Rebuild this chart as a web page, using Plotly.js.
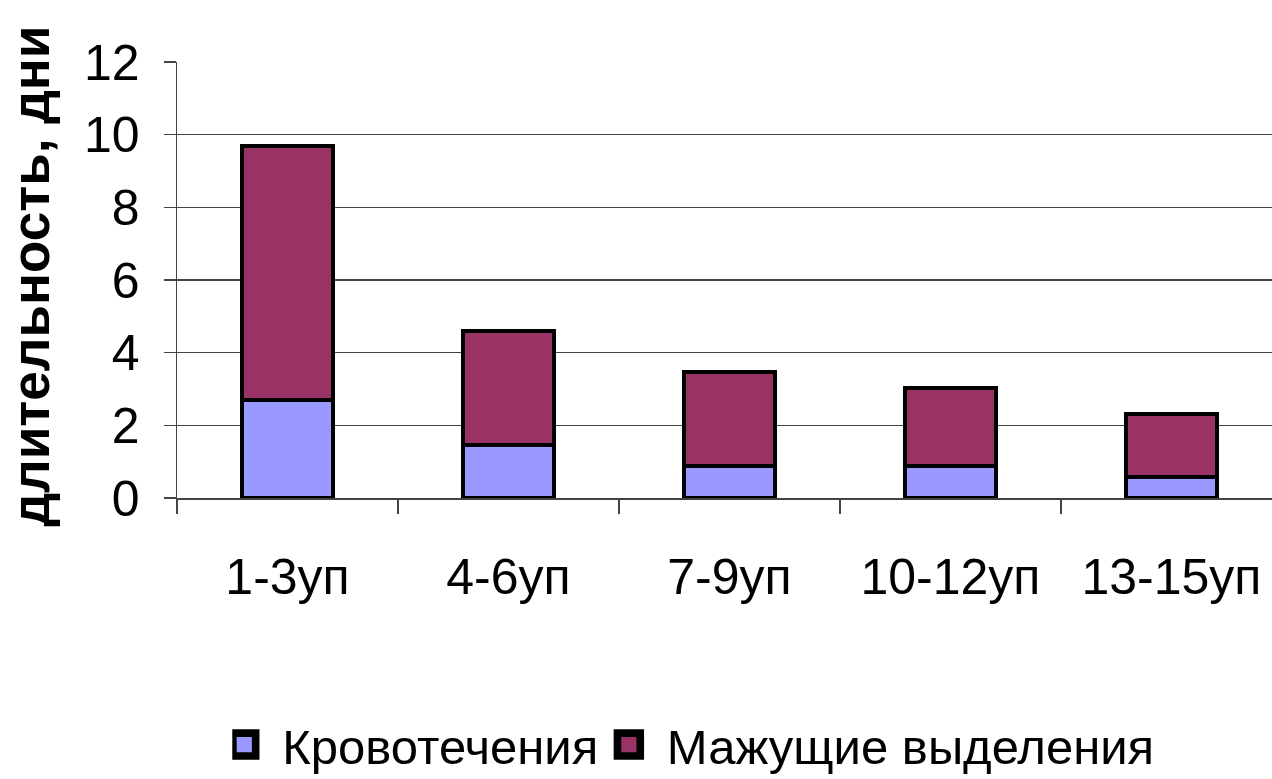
<!DOCTYPE html>
<html>
<head>
<meta charset="utf-8">
<script src="https://cdn.plot.ly/plotly-3.0.1.min.js"></script>
<style>
  html, body { margin: 0; padding: 0; background: #fff; }
  #chart { width: 1272px; height: 779px; }
</style>
</head>
<body>
<div id="chart"></div>
<script>
// data
const groups = ['1-3уп', '4-6уп', '7-9уп', '10-12уп', '13-15уп'];
const bleeding = [2.7, 1.45, 0.88, 0.88, 0.58];
const spotting = [7.0, 3.15, 2.6, 2.15, 1.73];
const yTicks = [0, 2, 4, 6, 8, 10, 12];

const FONT = 'Liberation Sans, Arial, sans-serif';

const traces = [
    {
        x: groups,
        y: bleeding,
        // trailing space widens the gap to the next legend entry
        name: 'Кровотечения\u00a0',
        type: 'bar',
        width: 0.415,
        marker: { color: '#9999ff', line: { color: '#000', width: 4 } }
    },
    {
        x: groups,
        y: spotting,
        name: 'Мажущие выделения',
        type: 'bar',
        width: 0.415,
        marker: { color: '#993366', line: { color: '#000', width: 4 } }
    }
];

const layout = {
    width: 1272,
    height: 779,
    margin: { l: 177, r: 0, t: 62, b: 281 },
    barmode: 'stack',
    paper_bgcolor: '#fff',
    plot_bgcolor: '#fff',
    font: { family: FONT, color: '#000', size: 48 },
    showlegend: true,
    legend: {
        orientation: 'h',
        xref: 'container', yref: 'container',
        x: 0.547, xanchor: 'center',
        y: 0.044, yanchor: 'middle',
        traceorder: 'normal',
        font: { size: 49 },
        itemwidth: 40
    },
    xaxis: {
        type: 'category',
        range: [-0.5, 4.455],
        showgrid: false,
        showline: true,
        linecolor: '#444',
        linewidth: 1.5,
        ticks: 'outside',
        tickson: 'boundaries',
        ticklen: 14,
        tickwidth: 1.5,
        tickcolor: '#444',
        ticklabelstandoff: 34,
        tickfont: { size: 50 }
    },
    yaxis: {
        range: [0, 12],
        tickvals: yTicks,
        showgrid: true,
        gridcolor: '#444',
        gridwidth: 1.5,
        zeroline: false,
        showline: true,
        linecolor: '#444',
        linewidth: 1.5,
        ticks: 'outside',
        ticklen: 12,
        tickwidth: 1.5,
        tickcolor: '#444',
        ticklabelstandoff: 14,
        tickfont: { size: 50 }
    },
    annotations: [{
        // y-axis title, placed by hand at the far left like the original
        text: '<b>длительность, дни</b>',
        xref: 'paper', yref: 'paper',
        x: -0.1342, y: 0.508,
        xanchor: 'center', yanchor: 'middle',
        textangle: -90,
        showarrow: false,
        font: { family: FONT, size: 53 }
    }]
};

Plotly.newPlot('chart', traces, layout, { displayModeBar: false, staticPlot: true }).then(function(gd) {
    // bigger legend swatches with a wider gap to the text, as in the original
    gd.querySelectorAll('.legendpoints path').forEach(function(p) {
        p.setAttribute('transform', 'translate(12,0) scale(1.9)');
    });
});
</script>
</body>
</html>
